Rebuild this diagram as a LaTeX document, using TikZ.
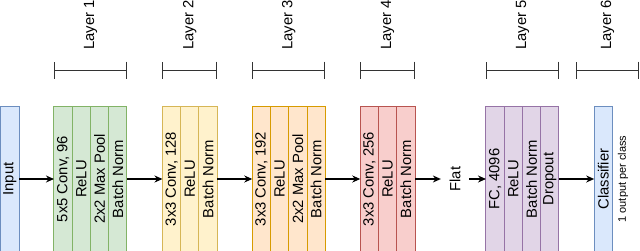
\documentclass[tikz,border=0pt]{standalone}
\usepackage{fontspec}
\setmainfont{Liberation Sans}
\usepackage{xcolor}
\usetikzlibrary{positioning, arrows.meta}

\definecolor{bluefill}{HTML}{DAE8FC}   \definecolor{bluedraw}{HTML}{6C8EBF}
\definecolor{greenfill}{HTML}{D5E8D4}  \definecolor{greendraw}{HTML}{82B366}
\definecolor{yellowfill}{HTML}{FFF2CC} \definecolor{yellowdraw}{HTML}{D6B656}
\definecolor{orangefill}{HTML}{FFE6CC} \definecolor{orangedraw}{HTML}{D79B00}
\definecolor{redfill}{HTML}{F8CECC}    \definecolor{reddraw}{HTML}{B85450}
\definecolor{purplefill}{HTML}{E1D5E7} \definecolor{purpledraw}{HTML}{9673A6}

\newcommand{\vlbl}[1]{\rotatebox{90}{#1}}

\begin{document}
\begin{tikzpicture}[x=1pt, y=1pt, font=\fontsize{14.8}{17}\selectfont,
  cell/.style={rectangle, draw=#1draw, fill=#1fill, line width=1pt, outer sep=0pt,
    minimum width=18.25pt, minimum height=146pt, inner sep=0pt},
  arr/.style={-{Stealth[length=8pt,width=7pt]}, line width=1.2pt},
  bracket/.style={{Bar[width=17pt]}-{Bar[width=17pt]}, line width=1pt, draw=black!80},
  lyr/.style={inner sep=0pt}]
  \useasboundingbox (0,0) rectangle (640,250);

  % input and layers
  \node[cell=blue, minimum width=18.5pt] (in) at (9.75,71) {\vlbl{Input}};
  \foreach \t [count=\i from 0] in {{5x5 Conv, 96}, ReLU, {2x2 Max Pool}, Batch Norm}
    \node[cell=green] (a\i) at (63.1+18.25*\i,71) {\vlbl{\t}};
  \foreach \t [count=\i from 0] in {{3x3 Conv, 128}, ReLU, Batch Norm}
    \node[cell=yellow] (b\i) at (171.6+18.25*\i,71) {\vlbl{\t}};
  \foreach \t [count=\i from 0] in {{3x3 Conv, 192}, ReLU, {2x2 Max Pool}, Batch Norm}
    \node[cell=orange] (c\i) at (261.4+18.25*\i,71) {\vlbl{\t}};
  \foreach \t [count=\i from 0] in {{3x3 Conv, 256}, ReLU, Batch Norm}
    \node[cell=red] (d\i) at (369.4+18.25*\i,71) {\vlbl{\t}};
  \node[inner xsep=8.5pt] (flat) at (455,71) {\vlbl{Flat}};
  \foreach \t [count=\i from 0] in {{FC, 4096}, ReLU, Batch Norm, Dropout}
    \node[cell=purple] (e\i) at (495.1+18.25*\i,71) {\vlbl{\t}};
  \node[cell=blue] (cls) at (603.3,71) {\vlbl{Classifier}};
  \node[right=2pt of cls, font=\fontsize{11}{13}\selectfont] (note) {\vlbl{1 output per class}};

  \draw[arr] (in) -- (a0);
  \draw[arr] (a3) -- (b0);
  \draw[arr] (b2) -- (c0);
  \draw[arr] (c3) -- (d0);
  \draw[arr] (d2) -- (flat);
  \draw[arr] (flat) -- (e0);
  \draw[arr] (e3) -- (cls);

  % brackets
  \draw[bracket] (a0.west |- 0,180) -- coordinate (m1) (a3.east |- 0,180);
  \draw[bracket] (b0.west |- 0,180) -- coordinate (m2) (b2.east |- 0,180);
  \draw[bracket] (c0.west |- 0,180) -- coordinate (m3) (c3.east |- 0,180);
  \draw[bracket] (d0.west |- 0,180) -- coordinate (m4) (d2.east |- 0,180);
  \draw[bracket] (e0.west |- 0,180) -- coordinate (m5) (e3.east |- 0,180);
  \coordinate (g1) at (576,180);
  \coordinate (g2) at (639,180);
  \draw[bracket] (g1) -- coordinate (m6) (g2);

  \node[lyr, above=20pt of m1] (t1) {\vlbl{Layer 1}};
  \node[lyr, above=20pt of m2] (t2) {\vlbl{Layer 2}};
  \node[lyr, above=20pt of m3] (t3) {\vlbl{Layer 3}};
  \node[lyr, above=20pt of m4] (t4) {\vlbl{Layer 4}};
  \node[lyr, above=20pt of m5] (t5) {\vlbl{Layer 5}};
  \node[lyr, above=20pt of m6] (t6) {\vlbl{Layer 6}};
\end{tikzpicture}
\end{document}
